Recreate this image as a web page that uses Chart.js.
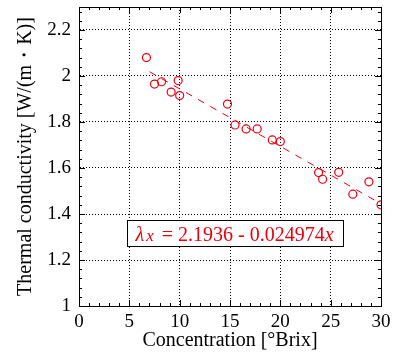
<!DOCTYPE html>
<html>
<head>
<meta charset="utf-8">
<script src="https://cdn.jsdelivr.net/npm/chart.js@4"></script>
<style>
  html, body { margin: 0; padding: 0; background: #fff; }
</style>
</head>
<body>
<canvas id="chart" width="407" height="353"></canvas>
<script>
const concentration = [6.7, 7.5, 8.2, 9.15, 9.85, 10.0, 14.75, 15.5, 16.6, 17.7, 19.2, 20.0, 23.8, 24.2, 25.8, 27.2, 28.8, 30.0];
const conductivity = [2.08, 1.965, 1.975, 1.93, 1.98, 1.915, 1.878, 1.787, 1.77, 1.77, 1.722, 1.715, 1.58, 1.551, 1.581, 1.486, 1.54, 1.44];

// fit printed in the figure
const fitIntercept = 2.1936;
const fitSlope = -0.024974;
const fitRange = [7, 30];

const xTicks = [0, 5, 10, 15, 20, 25, 30];
const yTicks = [1, 1.2, 1.4, 1.6, 1.8, 2, 2.2];

const RED = '#e8000f';
const SERIF = "'Liberation Serif', 'Times New Roman', serif";

const points = concentration.map((c, i) => ({ x: c, y: conductivity[i] }));
const fitLine = fitRange.map(c => ({ x: c, y: fitIntercept + fitSlope * c }));

// inner ticks + box around plot area
const framePlugin = {
    id: 'frame',
    afterDraw(chart) {
        const { ctx, chartArea: a, scales: { x, y } } = chart;
        ctx.save();
        ctx.strokeStyle = '#000';
        ctx.lineWidth = 1;
        ctx.beginPath();
        for (let i = 0; i <= 30; i++) {
            const px = Math.round(x.getPixelForValue(i)) + 0.5;
            const len = i % 5 === 0 ? 6 : 3;
            ctx.moveTo(px, a.bottom); ctx.lineTo(px, a.bottom - len);
            ctx.moveTo(px, a.top); ctx.lineTo(px, a.top + len);
        }
        for (let i = 0; i <= 32; i++) {
            const py = Math.round(y.getPixelForValue(1 + i * 0.04)) + 0.5;
            const len = i % 5 === 0 ? 6 : 3;
            ctx.moveTo(a.left, py); ctx.lineTo(a.left + len, py);
            ctx.moveTo(a.right, py); ctx.lineTo(a.right - len, py);
        }
        ctx.stroke();
        ctx.strokeRect(Math.round(a.left) + 0.5, Math.round(a.top) + 0.5,
            Math.round(a.right - a.left), Math.round(a.bottom - a.top));
        ctx.restore();
    }
};

const equationPlugin = {
    id: 'equation',
    afterDatasetsDraw(chart) {
        const { ctx, scales: { x, y } } = chart;
        const parts = [
            { t: 'λ', it: true, size: 20, gap: 2 },
            { t: 'x', it: true, size: 17, gap: 8 },
            { t: '= 2.1936 - 0.024974', it: false, size: 20, gap: 0 },
            { t: 'x', it: true, size: 20, gap: 0 }
        ];
        ctx.save();
        let total = 0;
        parts.forEach(p => {
            ctx.font = (p.it ? 'italic ' : '') + p.size + 'px ' + SERIF;
            p.w = ctx.measureText(p.t).width;
            total += p.w + p.gap;
        });
        const cx = x.getPixelForValue(15.45);
        const cy = y.getPixelForValue(1.317);
        const w = 216, h = 26;
        const left = Math.round(cx - w / 2) + 0.5, top = Math.round(cy - h / 2) + 0.5;
        ctx.fillStyle = '#fff';
        ctx.fillRect(left, top, w, h);
        ctx.strokeStyle = '#000';
        ctx.lineWidth = 1;
        ctx.strokeRect(left, top, w, h);
        ctx.fillStyle = RED;
        ctx.textBaseline = 'alphabetic';
        let tx = cx - total / 2;
        parts.forEach(p => {
            ctx.font = (p.it ? 'italic ' : '') + p.size + 'px ' + SERIF;
            ctx.fillText(p.t, tx, top + 20);
            tx += p.w + p.gap;
        });
        ctx.restore();
    }
};

new Chart(document.getElementById('chart'), {
    type: 'scatter',
    data: {
        datasets: [
            {
                type: 'line',
                data: fitLine,
                borderColor: RED,
                borderWidth: 1,
                borderDash: [7, 7],
                pointRadius: 0,
                fill: false
            },
            {
                data: points,
                pointStyle: 'circle',
                pointRadius: 4,
                borderWidth: 1.2,
                borderColor: RED,
                backgroundColor: 'rgba(0,0,0,0)'
            }
        ]
    },
    options: {
        responsive: false,
        animation: false,
        devicePixelRatio: 1,
        layout: { padding: { top: 7, right: 26, left: 0, bottom: 0 } },
        plugins: { legend: { display: false }, tooltip: { enabled: false } },
        scales: {
            x: {
                type: 'linear',
                min: 0,
                max: 30,
                afterBuildTicks: s => { s.ticks = xTicks.map(v => ({ value: v })); },
                afterFit: s => { s.height = 47; s.paddingLeft = 0; s.paddingRight = 0; },
                grid: { color: '#000', lineWidth: 1, drawTicks: false },
                border: { color: '#000', width: 1, dash: [1, 2] },
                ticks: {
                    color: '#000', font: { family: SERIF, size: 19 }, padding: 5, maxRotation: 0,
                    callback: v => String(v)
                },
                title: {
                    display: true,
                    text: 'Concentration [°Brix]',
                    color: '#000',
                    font: { family: SERIF, size: 20 },
                    padding: { top: 0, bottom: 0 }
                }
            },
            y: {
                type: 'linear',
                min: 1,
                max: 2.3,
                afterBuildTicks: s => { s.ticks = yTicks.map(v => ({ value: v })); },
                afterFit: s => { s.width = 79; s.paddingTop = 0; s.paddingBottom = 0; },
                grid: { color: '#000', lineWidth: 1, drawTicks: false },
                border: { color: '#000', width: 1, dash: [1, 2] },
                ticks: {
                    color: '#000', font: { family: SERIF, size: 19 }, padding: 8,
                    callback: v => String(Math.round(v * 10) / 10)
                },
                title: {
                    display: true,
                    text: 'Thermal conductivity [W/(m・K)]',
                    color: '#000',
                    font: { family: SERIF, size: 20 },
                    padding: { top: 14, bottom: 0 }
                }
            }
        }
    },
    plugins: [equationPlugin, framePlugin]
});
</script>
</body>
</html>
